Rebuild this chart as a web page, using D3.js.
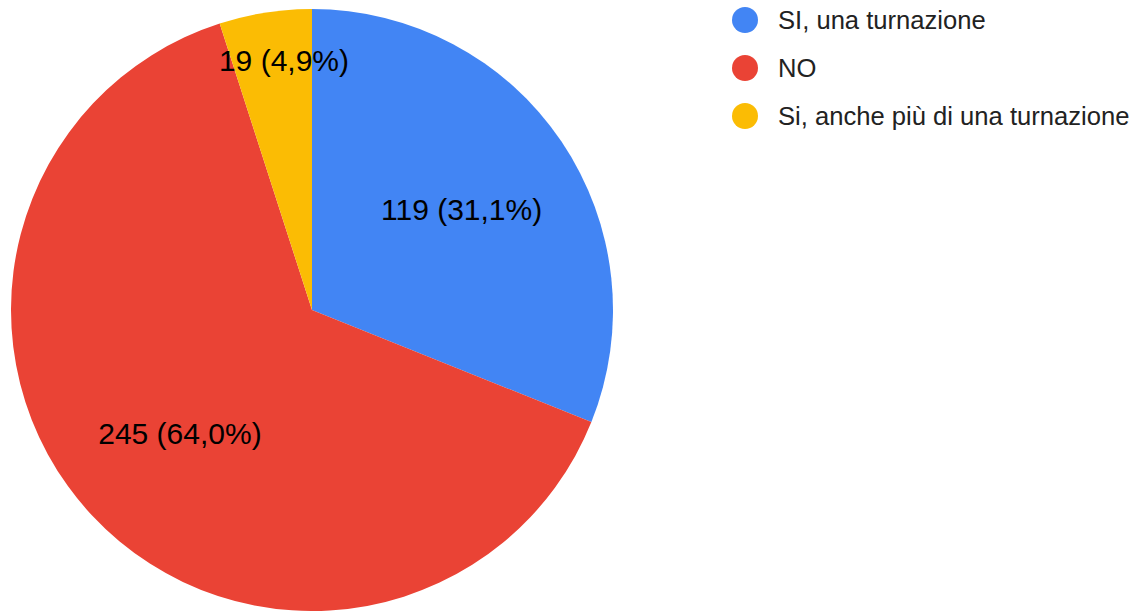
<!DOCTYPE html>
<meta charset="utf-8">
<style>
	body { margin: 0; background: #fff; }
	text { font-family: "Liberation Sans", Arial, sans-serif; }
</style>
<div id="chart"></div>
<script src="https://cdn.jsdelivr.net/npm/d3@7"></script>
<script>
	// data
	const categories = ["SI, una turnazione", "NO", "Si, anche più di una turnazione"]
	const counts = [119, 245, 19]
	const percentLabels = ["31,1%", "64,0%", "4,9%"]
	const colors = ["#4285F4", "#EA4335", "#FBBC04"]

	const width = 1147, height = 611
	const cx = 312, cy = 310, radius = 301

	const svg = d3.select("#chart").append("svg")
		.attr("width", width)
		.attr("height", height)

	const pie = d3.pie().sort(null).value(d => d.value)
	const data = categories.map((c, i) => ({ name: c, value: counts[i], pct: percentLabels[i], color: colors[i] }))
	const arcs = pie(data)

	const arc = d3.arc().innerRadius(0).outerRadius(radius)
	const labelArc = d3.arc().innerRadius(radius * 0.6).outerRadius(radius * 0.6)
	const smallLabelArc = d3.arc().innerRadius(radius * 0.84).outerRadius(radius * 0.84)

	const g = svg.append("g").attr("transform", `translate(${cx},${cy})`)

	g.selectAll("path").data(arcs)
		.enter()
		.append("path")
		.attr("d", arc)
		.attr("fill", d => d.data.color)

	g.selectAll("text.lbl").data(arcs)
		.enter()
		.append("text")
		.attr("class", "lbl")
		.attr("transform", d => {
			let p = labelArc.centroid(d)
			// small slices: keep x, push the label up towards the rim
			if ((d.endAngle - d.startAngle) < 0.4) p = [p[0], smallLabelArc.centroid(d)[1]]
			return `translate(${p})`
		})
		.attr("text-anchor", "middle")
		.attr("dy", "0.36em")
		.attr("font-size", 30)
		.attr("fill", "#000")
		.text(d => `${d.data.value} (${d.data.pct})`)

	// legend
	const legend = svg.append("g").attr("transform", "translate(745,20)")
	const item = legend.selectAll("g").data(data)
		.enter()
		.append("g")
		.attr("transform", (d, i) => `translate(0,${i * 48})`)

	item.append("circle")
		.attr("r", 13)
		.attr("fill", d => d.color)

	item.append("text")
		.attr("x", 33)
		.attr("dy", "0.36em")
		.attr("font-size", 25.6)
		.attr("fill", "#222")
		.text(d => d.name)
</script>
